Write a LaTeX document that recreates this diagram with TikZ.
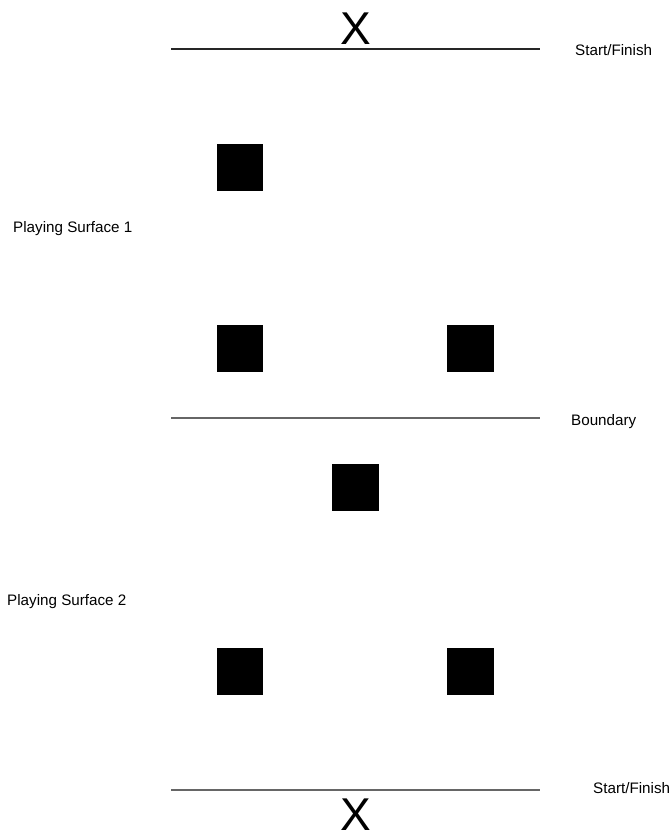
\documentclass[tikz,border=0pt]{standalone}
\usepackage{fontspec}
\setmainfont{Liberation Sans}
\usetikzlibrary{positioning}

\begin{document}
\begin{tikzpicture}[
    x=1pt, y=-1pt,
    cone/.style={fill=black, draw=none, minimum size=46.5pt, inner sep=0pt},
    tag/.style={anchor=west, inner sep=0pt, font=\fontsize{15.2}{18}\selectfont},
    cross/.style={inner sep=0pt, font=\fontsize{46}{50}\selectfont},
    lane/.style={line width=1.1pt},
]
    \useasboundingbox (0,0) rectangle (670,837);

    % lines across the field
    \coordinate (s1l) at (171,49);  \coordinate (s1r) at (540,49);
    \coordinate (bl)  at (171,418); \coordinate (br)  at (540,418);
    \coordinate (s2l) at (171,790); \coordinate (s2r) at (540,790);
    \draw[lane, black!85] (s1l) -- (s1r);
    \draw[lane, black!60] (bl) -- (br);
    \draw[lane, black!60] (s2l) -- (s2r);

    \node[cross] (x1) at (355.5,29) {X};
    \node[cross] (x2) at (355.5,815) {X};

    % cones, surface 1
    \node[cone] (c1) at (240,167.5) {};
    \node[cone] (c2) at (240,348.5) {};
    \node[cone] (c3) at (470.5,348.5) {};
    % cones, surface 2
    \node[cone] (c4) at (355.5,487.5) {};
    \node[cone] (c5) at (240,671.5) {};
    \node[cone] (c6) at (470.5,671.5) {};

    \node[tag] (sf1) at (575,50) {Start/Finish};
    \node[tag] (bd)  at (571,422) {Boundary};
    \node[tag] (sf2) at (593,788) {Start/Finish};
    \node[tag] (ps1) at (13,229) {Playing Surface 1};
    \node[tag] (ps2) at (7,602) {Playing Surface 2};
\end{tikzpicture}
\end{document}
